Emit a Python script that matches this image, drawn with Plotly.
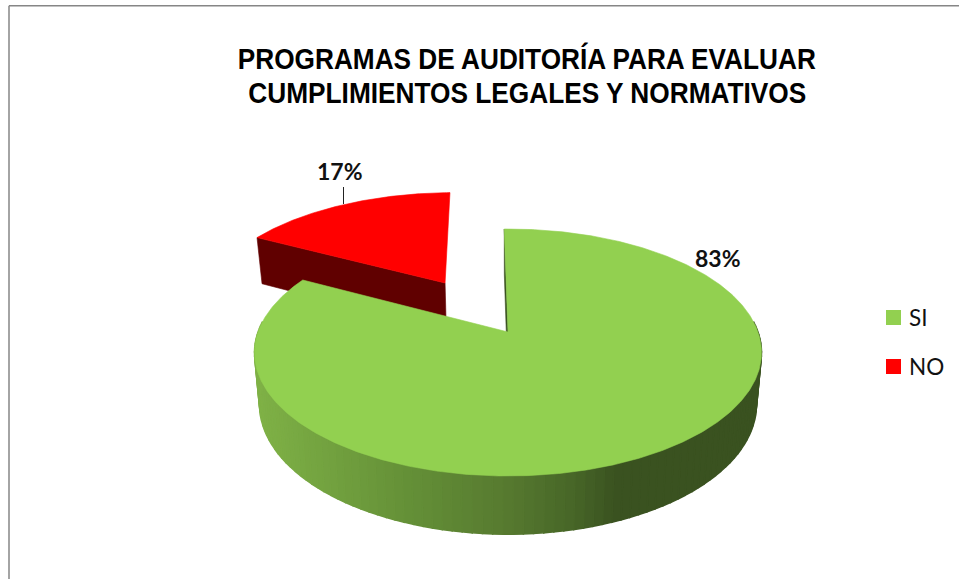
import numpy as np
import plotly.graph_objects as go

# data
labels = ["SI", "NO"]
values = [83, 17]
top_colors = ["#92D050", "#FF0000"]
title_lines = ["PROGRAMAS DE AUDITORÍA PARA EVALUAR", "CUMPLIMIENTOS LEGALES Y NORMATIVOS"]

# 3d pie set up (pixels, y goes down) - perspective tuned by eye against the picture
CX, CY = 508, 332
A, B = 250, 120.1      # radius on screen
P = 0.166              # perspective
DEPTH = 50.9
SHRINK = 0.98          # lower rim is a bit smaller
ROTATION = -1          # first slice starts here, clockwise from 12 o'clock
OFFSET = (-0.27, 0.4376)  # explosion of the NO slice


def project(u, v, lower=False):
    d = 1 + P * v
    s = SHRINK if lower else 1
    x = CX + A * s * u / d
    y = CY - B * s * v / d + (DEPTH / d if lower else 0)
    return x, y


def rim(a0, a1, off=(0, 0), lower=False):
    ang = np.radians(np.linspace(a0, a1, max(int(abs(a1 - a0)) * 2, 2)))
    return project(np.sin(ang) + off[0], np.cos(ang) + off[1], lower)


def poly(x, y, color, lw=0.6):
    return go.Scatter(x=list(x), y=list(y), mode="lines", fill="toself", fillcolor=color,
                      line=dict(color=color, width=lw), showlegend=False, hoverinfo="skip")


def wall_color(x):
    # side of the pie gets darker going right, then stays flat
    r = np.interp(x, [259, 407, 507, 573, 615], [0x80, 0x65, 0x57, 0x47, 0x3A])
    g = np.interp(x, [259, 407, 507, 573, 615], [0xB2, 0x91, 0x7A, 0x66, 0x52])
    b = np.interp(x, [259, 407, 507, 573, 615], [0x47, 0x38, 0x30, 0x28, 0x20])
    return "rgb(%d,%d,%d)" % (r, g, b)


si_sweep = values[0] / sum(values) * 360
si_end = ROTATION + si_sweep
no_end = si_end + values[1] / sum(values) * 360

fig = go.Figure()

# NO slice: front cut wall, then top
ax0, ay0 = project(OFFSET[0], OFFSET[1])
ax1, ay1 = project(OFFSET[0], OFFSET[1], lower=True)
ex0, ey0 = rim(si_end, si_end, OFFSET)
ex1, ey1 = rim(si_end, si_end, OFFSET, lower=True)
fig.add_trace(poly([ex0[0], ax0, ax1, ex1[0], ex0[0]], [ey0[0], ay0, ay1, ey1[0], ey0[0]], "#600000"))
rx, ry = rim(si_end, no_end, OFFSET)
fig.add_trace(poly(list(rx) + [ax0, rx[0]], list(ry) + [ay0, ry[0]], top_colors[1]))

# SI slice: outer wall in strips for the gradient, back part is never seen
for a in np.arange(ROTATION, si_end, 2):
    if np.cos(np.radians(a + 1)) > 0.1:
        continue
    tx, ty = rim(a, a + 2)
    lx, ly = rim(a, a + 2, lower=True)
    fig.add_trace(poly(list(tx) + list(lx[::-1]) + [tx[0]], list(ty) + list(ly[::-1]) + [ty[0]],
                       wall_color(np.mean(lx)), lw=1.5))

# SI slice: thin cut wall seen at the start edge
sx0, sy0 = rim(ROTATION, ROTATION)
sx1, sy1 = rim(ROTATION, ROTATION, lower=True)
cx0, cy0 = project(0, 0)
cx1, cy1 = project(0, 0, lower=True)
fig.add_trace(poly([sx0[0], cx0, cx1, sx1[0], sx0[0]], [sy0[0], cy0, cy1, sy1[0], sy0[0]], "#3A5220"))

# SI top
gx, gy = rim(ROTATION, si_end)
fig.add_trace(poly(list(gx) + [cx0, gx[0]], list(gy) + [cy0, gy[0]], top_colors[0]))

# leader line of the NO label
fig.add_trace(go.Scatter(x=[343.5, 343.5], y=[187, 204], mode="lines", line=dict(color="#222222", width=1),
                         showlegend=False, hoverinfo="skip"))

# legend, built by hand because the plotly one keeps too wide a gap to the text
for name, col, ly in zip(labels, top_colors, [317.5, 366.5]):
    fig.add_trace(go.Scatter(x=[893.5], y=[ly], mode="markers",
                             marker=dict(symbol="square", size=15, color=col, line=dict(width=0)),
                             showlegend=False, hoverinfo="skip"))
    fig.add_annotation(x=907, y=ly, text=name, showarrow=False, xanchor="left",
                       font=dict(family="Lato", size=22.5, color="#111111"))

fig.add_annotation(x=718, y=258, text="<b>%d%%</b>" % values[0], showarrow=False,
                   font=dict(family="Lato", size=23, color="#111111"))
fig.add_annotation(x=340, y=171, text="<b>%d%%</b>" % values[1], showarrow=False,
                   font=dict(family="Lato", size=23, color="#111111"))
fig.add_annotation(x=527, y=58, text="<b>%s</b>" % title_lines[0], showarrow=False,
                   font=dict(family="Liberation Sans", size=29, color="#000000"))
fig.add_annotation(x=527, y=93, text="<b>%s</b>" % title_lines[1], showarrow=False,
                   font=dict(family="Liberation Sans", size=29, color="#000000"))

# frame of the chart area, only top and left are inside the picture
fig.add_shape(type="line", x0=9, x1=959, y0=5.8, y1=5.8, line=dict(color="#868686", width=1.5))
fig.add_shape(type="line", x0=9, x1=9, y0=5.8, y1=579, line=dict(color="#868686", width=1.5))

fig.update_xaxes(range=[0, 959], visible=False, fixedrange=True)
fig.update_yaxes(range=[579, 0], visible=False, fixedrange=True)
fig.update_layout(width=959, height=579, margin=dict(l=0, r=0, t=0, b=0),
                  paper_bgcolor="white", plot_bgcolor="white", hovermode=False, showlegend=False)

# page margin would push the figure 8px off; the title font is squeezed to the reference width
post = """
document.body.style.margin='0';document.body.style.overflow='hidden';
var widths={'PROGRAMAS':578,'CUMPLIMIENTOS':558};
document.querySelectorAll('.annotation-text').forEach(function(t){
  var w=widths[t.textContent.split(' ')[0]];
  if(w){t.setAttribute('textLength',w);t.setAttribute('lengthAdjust','spacingAndGlyphs');}
});
"""
fig.write_html("out.html", config={"displayModeBar": False}, post_script=post)
